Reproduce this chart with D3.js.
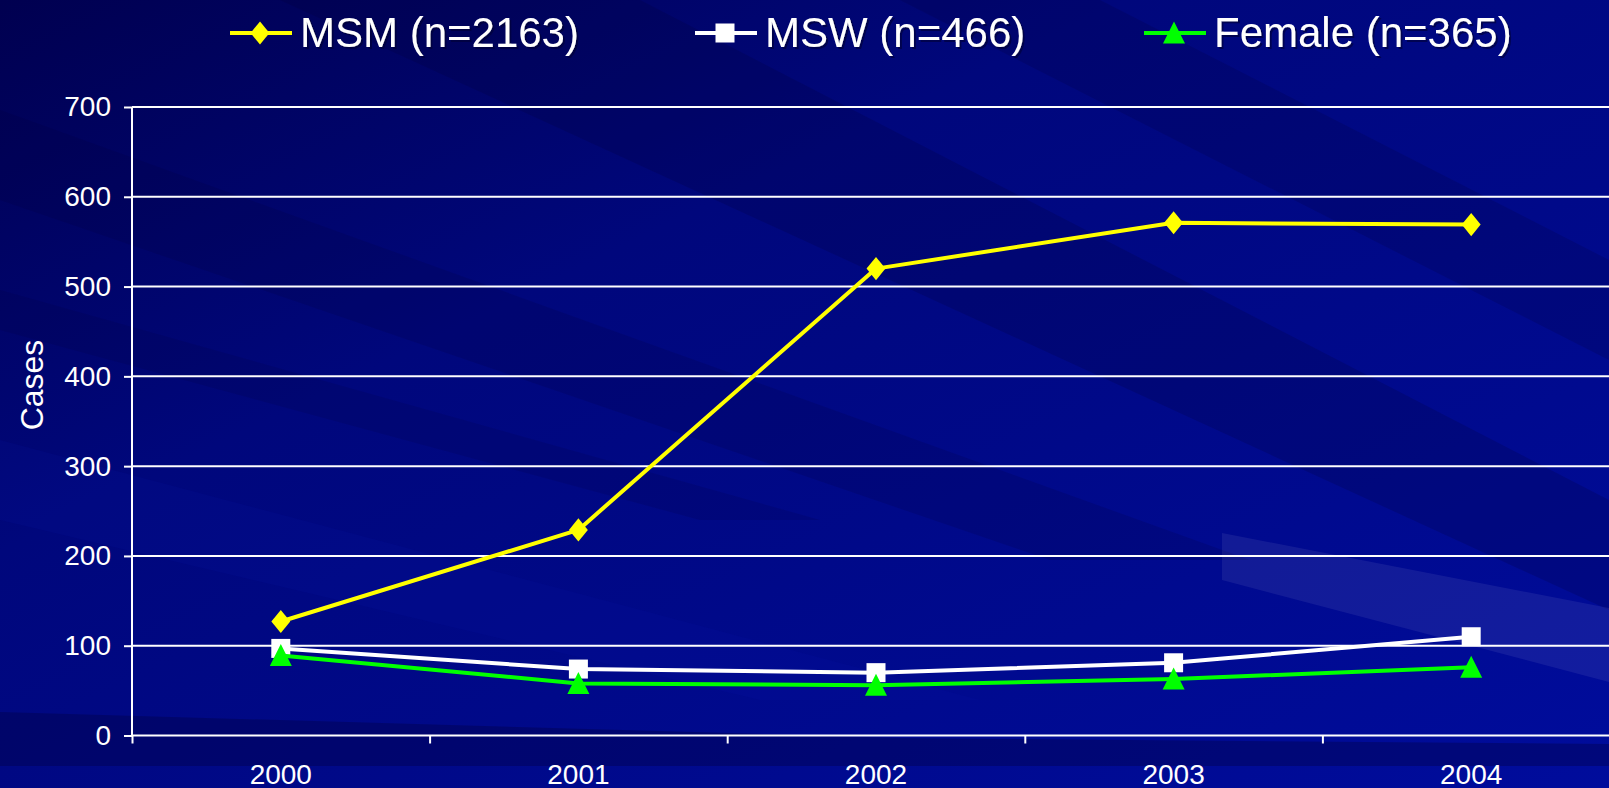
<!DOCTYPE html>
<html>
<head>
<meta charset="utf-8">
<script src="https://cdn.jsdelivr.net/npm/d3@7"></script>
<style>
  html, body { margin: 0; padding: 0; overflow: hidden; background: #000880; }
  text { font-family: "Liberation Sans", Arial, sans-serif; }
</style>
</head>
<body>
<div id="chart"></div>
<script>
// chart data
var years = ["2000", "2001", "2002", "2003", "2004"];
var msm = [127, 229, 520, 571, 569];
var msw = [97, 74, 70, 81, 110];
var female = [89, 58, 56, 63, 76];
var seriesNames = ["MSM (n=2163)", "MSW (n=466)", "Female (n=365)"];
var yTicks = [0, 100, 200, 300, 400, 500, 600, 700];

var W = 1609, H = 788;

var svg = d3.select("#chart")
    .append("svg")
    .attr("width", W)
    .attr("height", H);

// background gradient
var defs = svg.append("defs");
var bg = defs.append("linearGradient")
    .attr("id", "bg")
    .attr("x1", "0%").attr("y1", "0%")
    .attr("x2", "100%").attr("y2", "100%");
bg.append("stop").attr("offset", "0%").attr("stop-color", "#000050");
bg.append("stop").attr("offset", "35%").attr("stop-color", "#00077c");
bg.append("stop").attr("offset", "100%").attr("stop-color", "#000c9c");

var shadow = defs.append("filter").attr("id", "shadow");
shadow.append("feDropShadow")
    .attr("dx", 2).attr("dy", 2)
    .attr("stdDeviation", 0.5)
    .attr("flood-color", "#000030")
    .attr("flood-opacity", 0.6);

svg.append("rect")
    .attr("width", W).attr("height", H)
    .attr("fill", "url(#bg)");

// diagonal streaks of the slide background
var streaks = [
    { p: [[280, 0], [640, 0], [1609, 500], [1609, 610]], c: "#000038", o: 0.2 },
    { p: [[900, 0], [1100, 0], [1609, 260], [1609, 360]], c: "#000038", o: 0.18 },
    { p: [[0, 110], [0, 200], [1050, 560], [1250, 560]], c: "#000038", o: 0.16 },
    { p: [[0, 290], [0, 330], [700, 520], [820, 520]], c: "#000038", o: 0.14 },
    { p: [[0, 440], [0, 520], [760, 700], [980, 700]], c: "#0a1ab0", o: 0.12 },
    { p: [[1222, 533], [1609, 608], [1609, 682], [1222, 580]], c: "#ffffff", o: 0.07 },
    { p: [[0, 712], [900, 738], [1609, 744], [1609, 766], [0, 766]], c: "#000040", o: 0.35 }
];
svg.append("g").selectAll("polygon")
    .data(streaks)
    .enter().append("polygon")
    .attr("points", function(d) { return d.p.map(function(q) { return q.join(","); }).join(" "); })
    .attr("fill", function(d) { return d.c; })
    .attr("opacity", function(d) { return d.o; });

// scales
var left = 132, band = 297.6;
var x = d3.scaleBand()
    .domain(years)
    .range([left, left + band * years.length])
    .padding(0);
var y = d3.scaleLinear()
    .domain([0, 700])
    .range([735.5, 107]);

// gridlines
svg.append("g").selectAll("line")
    .data(yTicks.slice(1))
    .enter().append("line")
    .attr("x1", left).attr("x2", W)
    .attr("y1", function(d) { return y(d); })
    .attr("y2", function(d) { return y(d); })
    .attr("stroke", "#ffffff")
    .attr("stroke-width", 2);

// y axis
var yAxis = svg.append("g")
    .attr("transform", "translate(" + left + ",0)")
    .call(d3.axisLeft(y).tickValues(yTicks).tickSize(8).tickPadding(13));
yAxis.select(".domain").attr("stroke", "#ffffff").attr("stroke-width", 2)
    .attr("d", "M0," + y(700) + "V" + y(0));
yAxis.selectAll(".tick line").attr("stroke", "#ffffff").attr("stroke-width", 2);
yAxis.selectAll(".tick text")
    .attr("fill", "#ffffff")
    .style("font-size", "28px")
    .style("font-family", "'Liberation Sans', Arial, sans-serif");

// x axis: line and ticks at category boundaries
var xEdge = d3.scaleLinear().domain([0, years.length]).range(x.range());
var xAxis = svg.append("g")
    .attr("transform", "translate(0," + y(0) + ")")
    .call(d3.axisBottom(xEdge).tickValues(d3.range(years.length + 1)).tickSize(8).tickFormat(""));
xAxis.select(".domain").attr("stroke", "#ffffff").attr("stroke-width", 2)
    .attr("d", "M" + left + ",0H" + W);
xAxis.selectAll(".tick line").attr("stroke", "#ffffff").attr("stroke-width", 2);

// x labels
svg.append("g").selectAll("text")
    .data(years)
    .enter().append("text")
    .attr("x", function(d) { return x(d) + x.bandwidth() / 2; })
    .attr("y", 784)
    .attr("text-anchor", "middle")
    .attr("fill", "#ffffff")
    .style("font-size", "28px")
    .text(function(d) { return d; });

// y title
svg.append("text")
    .attr("transform", "translate(43,385) rotate(-90)")
    .attr("text-anchor", "middle")
    .attr("fill", "#ffffff")
    .style("font-size", "32px")
    .text("Cases");

// symbols
function diamond(s) {
    return "M0," + (-s * 0.55) + "L" + (s * 0.45) + ",0L0," + (s * 0.55) + "L" + (-s * 0.45) + ",0Z";
}
function square(s) {
    var h = s / 2;
    return "M" + (-h) + "," + (-h) + "H" + h + "V" + h + "H" + (-h) + "Z";
}
function triangle(s) {
    var h = s / 2;
    return "M0," + (-h - 1) + "L" + (h + 0.5) + "," + (h) + "L" + (-h - 0.5) + "," + (h) + "Z";
}

var series = [
    { name: seriesNames[0], values: msm, color: "#ffff00", shape: diamond, size: 21 },
    { name: seriesNames[1], values: msw, color: "#ffffff", shape: square, size: 19 },
    { name: seriesNames[2], values: female, color: "#00ff00", shape: triangle, size: 21 }
];

var line = d3.line()
    .x(function(d, i) { return x(years[i]) + x.bandwidth() / 2; })
    .y(function(d) { return y(d); });

series.forEach(function(s) {
    var g = svg.append("g");
    g.append("path")
        .attr("d", line(s.values))
        .attr("fill", "none")
        .attr("stroke", s.color)
        .attr("stroke-width", 4)
        .attr("stroke-linejoin", "round");
    g.selectAll("path.mark")
        .data(s.values)
        .enter().append("path")
        .attr("class", "mark")
        .attr("transform", function(d, i) {
            return "translate(" + (x(years[i]) + x.bandwidth() / 2) + "," + y(d) + ")";
        })
        .attr("d", s.shape(s.size))
        .attr("fill", s.color);
});

// legend
var legendX = [230, 695, 1144];
var legend = svg.append("g").selectAll("g")
    .data(series)
    .enter().append("g")
    .attr("transform", function(d, i) { return "translate(" + legendX[i] + ",33)"; });
legend.append("line")
    .attr("x1", 0).attr("x2", 62)
    .attr("y1", 0).attr("y2", 0)
    .attr("stroke", function(d) { return d.color; })
    .attr("stroke-width", 4);
legend.append("path")
    .attr("transform", "translate(30,0)")
    .attr("d", function(d) { return d.shape(d.size); })
    .attr("fill", function(d) { return d.color; });
legend.append("text")
    .attr("x", 70)
    .attr("y", 14)
    .attr("fill", "#ffffff")
    .attr("filter", "url(#shadow)")
    .style("font-size", "42px")
    .text(function(d) { return d.name; });
</script>
</body>
</html>
